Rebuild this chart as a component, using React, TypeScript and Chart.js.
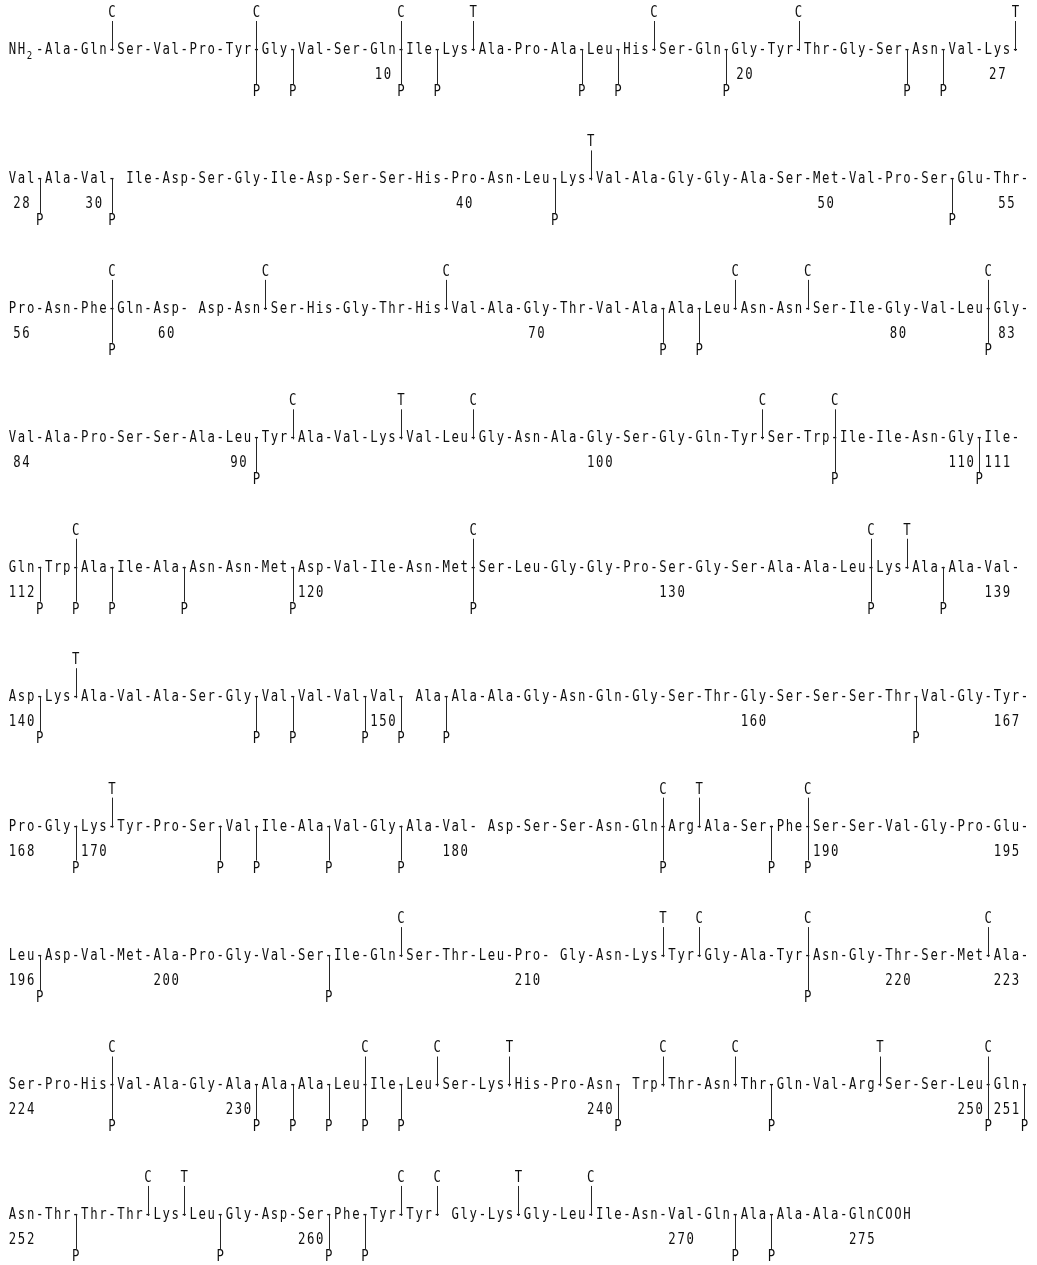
import React, { useEffect, useRef } from "react";
import { Chart, registerables } from "chart.js";

Chart.register(...registerables);

// Amino-acid sequence, one string per printed line
const SEQUENCE_ROWS: string[] = [
  "Ala Gln Ser Val Pro Tyr Gly Val Ser Gln Ile Lys Ala Pro Ala Leu His Ser Gln Gly Tyr Thr Gly Ser Asn Val Lys",
  "Val Ala Val Ile Asp Ser Gly Ile Asp Ser Ser His Pro Asn Leu Lys Val Ala Gly Gly Ala Ser Met Val Pro Ser Glu Thr",
  "Pro Asn Phe Gln Asp Asp Asn Ser His Gly Thr His Val Ala Gly Thr Val Ala Ala Leu Asn Asn Ser Ile Gly Val Leu Gly",
  "Val Ala Pro Ser Ser Ala Leu Tyr Ala Val Lys Val Leu Gly Asn Ala Gly Ser Gly Gln Tyr Ser Trp Ile Ile Asn Gly Ile",
  "Gln Trp Ala Ile Ala Asn Asn Met Asp Val Ile Asn Met Ser Leu Gly Gly Pro Ser Gly Ser Ala Ala Leu Lys Ala Ala Val",
  "Asp Lys Ala Val Ala Ser Gly Val Val Val Val Ala Ala Ala Gly Asn Gln Gly Ser Thr Gly Ser Ser Ser Thr Val Gly Tyr",
  "Pro Gly Lys Tyr Pro Ser Val Ile Ala Val Gly Ala Val Asp Ser Ser Asn Gln Arg Ala Ser Phe Ser Ser Val Gly Pro Glu",
  "Leu Asp Val Met Ala Pro Gly Val Ser Ile Gln Ser Thr Leu Pro Gly Asn Lys Tyr Gly Ala Tyr Asn Gly Thr Ser Met Ala",
  "Ser Pro His Val Ala Gly Ala Ala Ala Leu Ile Leu Ser Lys His Pro Asn Trp Thr Asn Thr Gln Val Arg Ser Ser Leu Gln",
  "Asn Thr Thr Thr Lys Leu Gly Asp Ser Phe Tyr Tyr Gly Lys Gly Leu Ile Asn Val Gln Ala Ala Ala Gln",
];

const N_TERMINUS = "NH2";
const C_TERMINUS = "COOH";

// residues after which the typescript has an extra blank
const EXTRA_SPACE_AFTER: number[] = [30, 60, 150, 180, 210, 240, 263];

// cleavage sites: bond after residue n
const C_SITES: number[] = [
  2, 6, 10, 17, 21, 58, 62, 67, 75, 77, 82, 91, 96, 104, 106, 113, 124, 135,
  185, 189, 206, 214, 217, 222, 226, 233, 235, 241, 243, 250, 255, 262, 263, 267,
];
const T_SITES: number[] = [12, 27, 43, 94, 136, 141, 170, 186, 213, 237, 247, 256, 265];
const P_SITES: number[] = [
  6, 7, 10, 11, 15, 16, 19, 24, 25, 28, 30, 42, 53, 58, 73, 74, 82, 90, 106, 110,
  112, 113, 114, 116, 119, 124, 135, 137, 140, 146, 147, 149, 150, 151, 164,
  169, 173, 174, 176, 178, 185, 188, 189, 196, 204, 217, 226, 230, 231, 232, 233,
  234, 240, 244, 250, 251, 253, 257, 260, 261, 271, 272,
];

// residue numbers printed under the sequence
const NUMBERED: number[] = [
  10, 20, 27, 28, 30, 40, 50, 55, 56, 60, 70, 80, 83, 84, 90, 100, 110, 111,
  112, 120, 130, 139, 140, 150, 160, 167, 168, 170, 180, 190, 195, 196, 200,
  210, 220, 223, 224, 230, 240, 250, 251, 252, 260, 270, 275,
];

type Res = { n: number; code: string; row: number; start: number };

function buildLayout(): Res[] {
  const out: Res[] = [];
  let n = 1;
  SEQUENCE_ROWS.forEach((rowStr, r) => {
    let col = r === 0 ? N_TERMINUS.length + 1 : 0;
    rowStr.split(" ").forEach((code) => {
      out.push({ n, code, row: r, start: col });
      col += code.length + 1;
      if (EXTRA_SPACE_AFTER.includes(n)) col += 1;
      n++;
    });
  });
  return out;
}

const FONT_FAMILY = "'DejaVu Sans Mono', 'Liberation Mono', monospace";
const FONT_SIZE = 15;
const SCALE_X = 0.82;
const INK = "#0e0e0e";

const seqPlugin = {
  id: "sequenceDraw",
  afterDatasetsDraw(chart: any) {
    const ctx: CanvasRenderingContext2D = chart.ctx;
    const xs = chart.scales.x;
    const pitch = xs.getPixelForValue(1) - xs.getPixelForValue(0);
    ctx.save();
    ctx.fillStyle = INK;
    ctx.strokeStyle = "#262626";
    ctx.lineWidth = 1;
    ctx.textAlign = "center";
    ctx.textBaseline = "middle";
    ctx.font = `${FONT_SIZE}px ${FONT_FAMILY}`;

    const ch = (c: string, x: number, y: number, size = FONT_SIZE) => {
      ctx.save();
      ctx.font = `${size}px ${FONT_FAMILY}`;
      ctx.translate(x, y);
      ctx.scale(SCALE_X, 1);
      ctx.fillText(c, 0, 0);
      ctx.restore();
    };
    const str = (s: string, x0: number, y: number) => {
      for (let i = 0; i < s.length; i++) ch(s[i], x0 + i * pitch, y);
    };
    const vline = (x: number, y1: number, y2: number) => {
      const xx = Math.round(x) + 0.5;
      ctx.beginPath();
      ctx.moveTo(xx, y1);
      ctx.lineTo(xx, y2);
      ctx.stroke();
    };

    chart.data.datasets.forEach((ds: any, di: number) => {
      const meta = chart.getDatasetMeta(di);
      meta.data.forEach((el: any, i: number) => {
        const raw = ds.data[i];
        const x = el.x;
        const y = el.y;
        switch (ds.label) {
          case "residues":
            str(raw.code, x, y);
            break;
          case "bonds":
            ch("-", x, y);
            break;
          case "N-terminus":
            ch(raw.text[0], x, y);
            ch(raw.text[1], x + pitch, y);
            ch(raw.text[2], x + 2 * pitch - 1, y + 6, 11);
            break;
          case "C-terminus":
            str(raw.text, x, y);
            break;
          case "numbers": {
            const s = raw.text;
            str(s, x - ((s.length - 1) / 2) * pitch, y + 25);
            break;
          }
          case "C":
          case "T":
            vline(x, y - 29, y + 1);
            ch(ds.label, x, y - 37);
            break;
          case "P":
            vline(x, y - 1, y + 34);
            ch("P", x, y + 42);
            break;
        }
      });
    });
    ctx.restore();
  },
};

export default function App() {
  const ref = useRef<HTMLCanvasElement | null>(null);

  useEffect(() => {
    if (!ref.current) return;
    const res = buildLayout();
    const byN = new Map<number, Res>();
    res.forEach((r) => byN.set(r.n, r));
    const last = res[res.length - 1];
    const bondX = (r: Res) => r.start + r.code.length + 0.5;

    const residueData = res.map((r) => ({ x: r.start + 0.5, y: r.row, code: r.code }));
    const bondData = [
      { x: N_TERMINUS.length + 0.5, y: 0 },
      ...res.filter((r) => r.n !== last.n).map((r) => ({ x: bondX(r), y: r.row })),
    ];
    const siteData = (sites: number[]) =>
      sites.map((n) => {
        const r = byN.get(n)!;
        return { x: bondX(r), y: r.row };
      });
    const numberData = NUMBERED.map((n) => {
      const r = byN.get(n)!;
      return { x: r.start + 1.5, y: r.row, text: String(n) };
    });

    const ds = (label: string, data: any[]) => ({
      label,
      data,
      pointRadius: 0,
      pointHoverRadius: 0,
      showLine: false,
    });

    const chart = new Chart(ref.current, {
      type: "scatter",
      data: {
        datasets: [
          ds("residues", residueData),
          ds("bonds", bondData),
          ds("N-terminus", [{ x: 0.5, y: 0, text: N_TERMINUS }]),
          ds("C-terminus", [{ x: last.start + last.code.length + 0.5, y: last.row, text: C_TERMINUS }]),
          ds("numbers", numberData),
          ds("C", siteData(C_SITES)),
          ds("T", siteData(T_SITES)),
          ds("P", siteData(P_SITES)),
        ],
      },
      options: {
        responsive: false,
        animation: false,
        events: [],
        layout: { padding: 0 },
        plugins: { legend: { display: false }, tooltip: { enabled: false } },
        scales: {
          x: { type: "linear", min: -0.8854, max: 113.89, display: false },
          y: { type: "linear", min: -0.3863, max: 9.3866, reverse: true, display: false },
        },
      },
      plugins: [seqPlugin],
    } as any);
    return () => chart.destroy();
  }, []);

  return (
    <canvas
      ref={ref}
      width={1037}
      height={1265}
      style={{
        position: "absolute",
        left: 0,
        top: 0,
        display: "block",
        width: 1037,
        height: 1265,
        background: "#ffffff",
      }}
    />
  );
}
